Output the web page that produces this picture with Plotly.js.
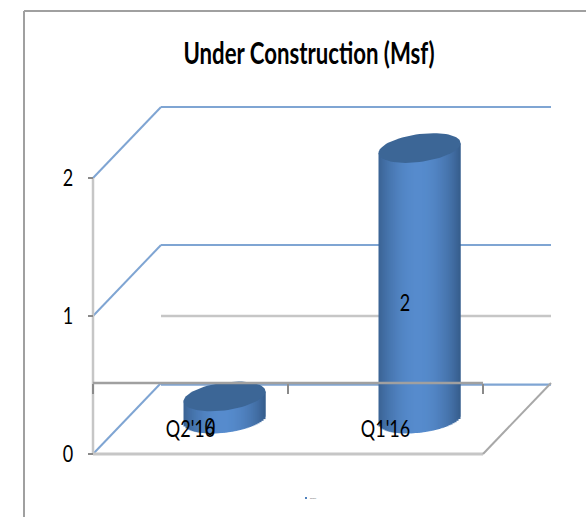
<!DOCTYPE html>
<html><head><meta charset="utf-8">
<script src="https://cdn.plot.ly/plotly-3.0.1.min.js"></script>
<style>html,body{margin:0;padding:0;background:#fff}#c{width:586px;height:517px}</style>
</head><body><div id="c"></div>
<script>
const categories = ["Q2'16", "Q1'16"];
const values = [0.16, 1.96];
const yTicks = [0, 1, 2];
const seriesName = "Series1";
const chartTitle = "Under Construction (Msf)";

const FONT = 'Lato,"Liberation Sans",sans-serif';
// pseudo-3D projection, expressed in axis units
const unitX = 195, unitY = 138;
const dx = 68 / unitX, dy = 71 / unitY;
const cylW = 41 / unitX, cylH = 14 / unitY, shear = 5 / unitY;
const xMin = -0.5, xEnd = categories.length - 0.5;
const BLUE = '#7fa5d3', GREY = '#c6c6c6', GREY2 = '#a8a8a8';
const N = 41;

const traces = [];
const light = [86, 139, 205], dark = [52, 90, 135];
for (let k = 0; k < N; k++) {
  const u = -1 + (2 * k + 1) / N;
  const t = Math.pow(Math.max(0, Math.cos((u + 0.03) / 1.04 * Math.PI / 2)), 0.8);
  const col = light.map((c, j) => Math.round(dark[j] + (c - dark[j]) * t));
  const low = cylH * Math.sqrt(Math.max(0, 1 - u * u));
  const left = dx / 2 + u * cylW - cylW / N;
  traces.push({
    type: 'bar', x: categories.map((_, i) => i),
    y: values.map(v => v + low),
    base: values.map(() => dy / 2 + shear * u - low),
    offset: left, width: Math.min(4 * cylW / N, dx / 2 + cylW - left),
    marker: {color: `rgb(${col})`, line: {width: 0}},
    showlegend: false, hoverinfo: 'skip'
  });
}
values.forEach((v, i) => {
  const xs = [], ys = [];
  for (let a = 0; a <= 72; a++) {
    const th = a / 72 * 2 * Math.PI;
    xs.push(i + dx / 2 + cylW * Math.cos(th));
    ys.push(dy / 2 + v + shear * Math.cos(th) + cylH * Math.sin(th));
  }
  traces.push({type: 'scatter', mode: 'lines', x: xs, y: ys, fill: 'toself',
    fillcolor: '#3c6696', line: {width: 0, color: '#3c6696'}, showlegend: false, hoverinfo: 'skip'});
});
traces.push({
  type: 'scatter', mode: 'text', x: categories.map((_, i) => i + 0.1),
  y: values.map(v => v / 2 + 0.1), text: values.map(v => String(Math.round(v))),
  textfont: {family: FONT, size: 24, color: '#000'}, showlegend: false, hoverinfo: 'skip'
});

const ln = (x0, y0, x1, y1, color, width, layer) => ({type: 'line', x0, y0, x1, y1,
  line: {color, width}, layer: layer || 'below'});
const shapes = [];
[0, 1, 2].forEach(v => {
  const back = v + dy - (v === 0 ? 0.012 : 0);
  shapes.push(ln(xMin, v, xMin + dx, v + dy, BLUE, 2));
  shapes.push(ln(xMin + dx, back, xEnd + dx, back, BLUE, 2.2));
});
shapes.push(ln(xMin + dx, 1, xEnd + dx, 1, GREY, 2.5));
shapes.push(ln(xMin, 0, xMin, 2, GREY, 2.5));
shapes.push(ln(xMin, 0, xEnd, 0, GREY, 3));
shapes.push(ln(xEnd, 0, xEnd + dx, dy, GREY2, 2));
shapes.push(ln(xMin, dy, xEnd, dy, '#a0a0a0', 2.5, 'above'));
// outer chart frame (top and left only, the picture is cut there)
const px = p => (p - 85) / 475, py = p => (460 - p) / 360;
shapes.push({type: 'line', xref: 'paper', yref: 'paper', x0: px(24), x1: px(24), y0: py(11), y1: py(517), line: {color: '#a0a0a0', width: 2}});
shapes.push({type: 'line', xref: 'paper', yref: 'paper', x0: px(24), x1: px(586), y0: py(11), y1: py(11), line: {color: '#a0a0a0', width: 2}});
// tiny legend swatch
shapes.push({type: 'rect', xref: 'paper', yref: 'paper', x0: px(305), x1: px(307), y0: py(499), y1: py(497), fillcolor: '#4f81bd', line: {width: 0}});

Plotly.newPlot('c', traces, {
  width: 586, height: 517, autosize: false,
  margin: {l: 85, r: 26, t: 100, b: 57, pad: 0},
  paper_bgcolor: '#fff', plot_bgcolor: 'rgba(0,0,0,0)',
  barmode: 'overlay', showlegend: false,
  title: {text: '<b>' + chartTitle + '</b>', x: 309 / 586, xanchor: 'center', y: 1 - 54 / 517, yanchor: 'middle',
    font: {family: FONT, size: 30, color: '#000'}},
  xaxis: {type: 'linear', range: [xMin - 8 / unitX, xMin + 467 / unitX], anchor: 'free', position: 77 / 360,
    tickmode: 'array', tickvals: categories.map((_, i) => i), ticktext: categories,
    ticks: '', showgrid: false, zeroline: false, showline: false,
    ticklabelstandoff: 29,
    minor: {tickmode: 'array', tickvals: [-0.5, 0.5, 1.5], ticks: 'outside', ticklen: 10, tickwidth: 1.5, tickcolor: '#8a8a8a', showgrid: false},
    tickfont: {family: FONT, size: 24, color: '#000'}},
  yaxis: {range: [-6 / unitY, 354 / unitY], anchor: 'free', position: 8 / 475,
    tickmode: 'array', tickvals: yTicks, ticktext: yTicks.map(String),
    ticks: 'outside', ticklen: 5, tickwidth: 1.5, tickcolor: '#8a8a8a',
    showgrid: false, zeroline: false, showline: false, ticklabelstandoff: 10,
    tickfont: {family: FONT, size: 24, color: '#000'}},
  shapes,
  annotations: [{xref: 'paper', yref: 'paper', x: px(308), y: py(498), xanchor: 'left', yanchor: 'middle',
    text: seriesName, showarrow: false, font: {family: FONT, size: 2, color: '#555'}}]
}, {displayModeBar: false, staticPlot: true}).then(gd => {
  // the reference's text is horizontally squeezed
  const squeeze = (sel, s) => gd.querySelectorAll(sel).forEach(t => {
    const x = parseFloat(t.getAttribute('x')) || 0;
    const prev = t.getAttribute('transform') || '';
    t.setAttribute('transform', `${prev} translate(${x},0) scale(${s},1) translate(${-x},0)`);
  });
  squeeze('.gtitle', 0.74);
  squeeze('.xtick text, .ytick text, .textpoint text', 0.75);
});
</script></body></html>
